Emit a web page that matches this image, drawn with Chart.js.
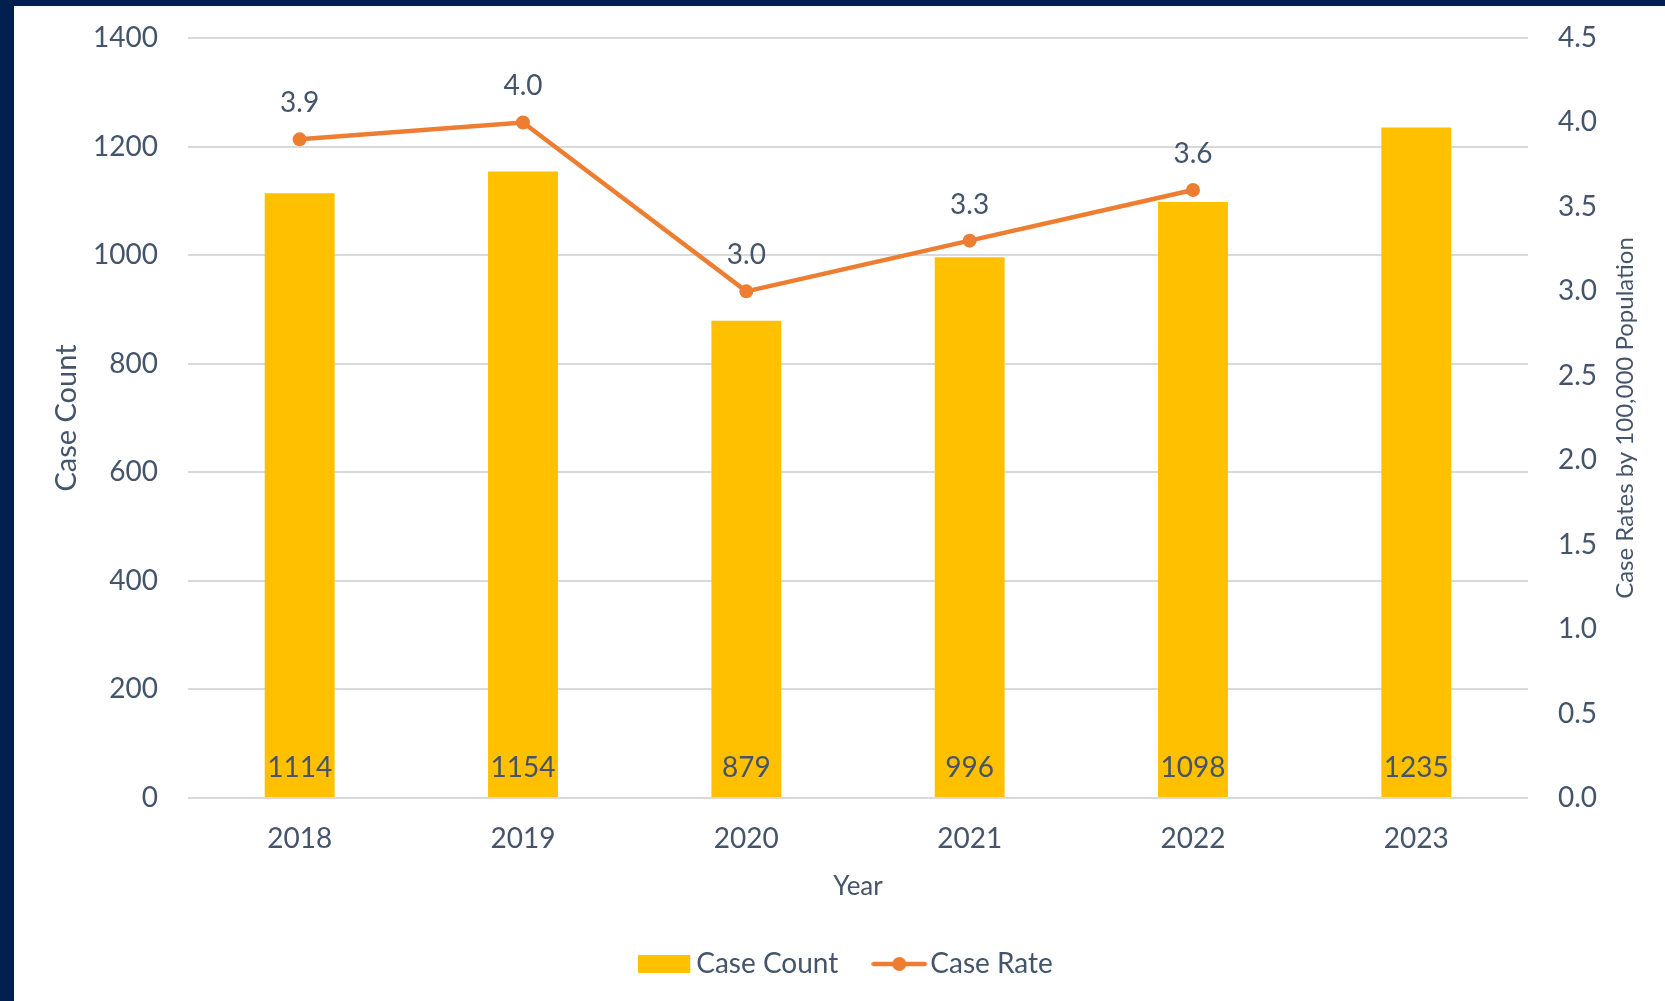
<!DOCTYPE html>
<html><head><meta charset="utf-8">
<script src="https://cdn.jsdelivr.net/npm/chart.js@4.4.0/dist/chart.umd.min.js"></script>
<style>
html,body{margin:0;padding:0;background:#fff;}
#frame{position:absolute;left:0;top:0;width:1665px;height:1001px;background:#fff;border-left:14px solid #012050;border-top:6px solid #012050;box-sizing:border-box;}
#wrap{position:absolute;left:14px;top:6px;width:1651px;height:995px;}
</style></head><body>
<div id="frame"></div>
<div id="wrap"><canvas id="c" width="1651" height="995"></canvas></div>
<script>
const years = ['2018', '2019', '2020', '2021', '2022', '2023'];
const caseCounts = [1114, 1154, 879, 996, 1098, 1235];
const caseRates = [3.9, 4.0, 3.0, 3.3, 3.6, null];
const countAxis = {min: 0, max: 1400, step: 200, title: 'Case Count'};
const rateAxis = {min: 0, max: 4.5, step: 0.5, title: 'Case Rates by 100,000 Population'};
const xTitle = 'Year';
const seriesNames = ['Case Count', 'Case Rate'];

const TEXT = '#44546A';
const BAR = '#FFC000';
const LINE = '#ED7D31';
const FONT = 'Lato';

function rectImg(){
  const c = document.createElement('canvas'); c.width = 58; c.height = 18;
  const g = c.getContext('2d'); g.fillStyle = BAR; g.fillRect(0, 0, 52, 18); return c;
}
function lineImg(){
  const c = document.createElement('canvas'); c.width = 60; c.height = 16;
  const g = c.getContext('2d');
  g.strokeStyle = LINE; g.lineWidth = 4.5; g.lineCap = 'round';
  g.beginPath(); g.moveTo(2.5, 8); g.lineTo(53.5, 8); g.stroke();
  g.fillStyle = LINE; g.beginPath(); g.arc(28, 8, 7, 0, Math.PI * 2); g.fill();
  return c;
}
const legendImgs = [rectImg(), lineImg()];

const valueLabels = {
  id: 'valueLabels',
  afterDatasetsDraw(chart){
    const ctx = chart.ctx;
    ctx.save();
    ctx.font = '28px ' + FONT;
    ctx.fillStyle = TEXT;
    ctx.textAlign = 'center';
    ctx.textBaseline = 'middle';
    const ys = chart.scales.y;
    chart.getDatasetMeta(0).data.forEach((el, i) => {
      ctx.fillText(String(caseCounts[i]), el.x, ys.getPixelForValue(0) - 30);
    });
    chart.getDatasetMeta(1).data.forEach((el, i) => {
      if (caseRates[i] == null) return;
      ctx.fillText(caseRates[i].toFixed(1), el.x, el.y - 36);
    });
    ctx.restore();
  },
  afterDraw(chart){
    const ctx = chart.ctx, ca = chart.chartArea, s = chart.scales.y1;
    ctx.save();
    ctx.font = '24px ' + FONT;
    ctx.fillStyle = TEXT;
    ctx.textAlign = 'center';
    ctx.textBaseline = 'middle';
    ctx.translate(s.right - 40, (ca.top + ca.bottom) / 2);
    ctx.rotate(-Math.PI / 2);
    ctx.fillText(rateAxis.title, 0, 0);
    ctx.restore();
  }
};

function noVPad(s){ s.paddingTop = 0; s.paddingBottom = 0; }

new Chart(document.getElementById('c'), {
  type: 'bar',
  data: {
    labels: years,
    datasets: [
      {type: 'bar', label: seriesNames[0], data: caseCounts, backgroundColor: BAR, yAxisID: 'y',
       categoryPercentage: 1, barPercentage: 0.313, order: 1},
      {type: 'line', label: seriesNames[1], data: caseRates, yAxisID: 'y1', borderColor: LINE, backgroundColor: LINE,
       borderWidth: 4.5, pointRadius: 7, pointHoverRadius: 7, pointBackgroundColor: LINE, pointBorderWidth: 0,
       spanGaps: false, order: 0, tension: 0}
    ]
  },
  options: {
    responsive: false,
    animation: false,
    layout: {padding: {left: 26, right: 0, top: 32, bottom: 19}},
    plugins: {
      tooltip: {enabled: false},
      legend: {
        position: 'bottom',
        maxHeight: 80,
        labels: {
          usePointStyle: true, pointStyleWidth: 30, boxHeight: 18, padding: 48,
          color: TEXT, font: {family: FONT, size: 28},
          generateLabels(chart){
            const items = Chart.defaults.plugins.legend.labels.generateLabels(chart);
            items.sort((a, b) => a.datasetIndex - b.datasetIndex);
            items.forEach(it => { it.pointStyle = legendImgs[it.datasetIndex]; });
            return items;
          }
        }
      }
    },
    scales: {
      x: {
        grid: {display: false, drawTicks: false},
        border: {display: false},
        ticks: {color: TEXT, font: {family: FONT, size: 28}, padding: 24},
        title: {display: true, text: xTitle, color: TEXT, font: {family: FONT, size: 26}, padding: {top: 0, bottom: 0}},
        afterFit(s){ s.height = 104; }
      },
      y: {
        position: 'left', min: countAxis.min, max: countAxis.max,
        grid: {color: '#D9D9D9', lineWidth: 2, drawTicks: false},
        border: {display: false},
        ticks: {stepSize: countAxis.step, color: TEXT, font: {family: FONT, size: 28}, padding: 30,
                callback: v => String(v)},
        title: {display: true, text: countAxis.title, color: TEXT, font: {family: FONT, size: 29}, padding: {top: 9, bottom: 0}},
        afterFit(s){ s.width = 148; noVPad(s); }
      },
      y1: {
        position: 'right', min: rateAxis.min, max: rateAxis.max,
        grid: {display: false, drawTicks: false},
        border: {display: false},
        ticks: {stepSize: rateAxis.step, color: TEXT, font: {family: FONT, size: 28}, padding: 30,
                callback: v => Number(v).toFixed(1)},
        afterFit(s){ s.width = 137; noVPad(s); }
      }
    }
  },
  plugins: [valueLabels]
});
</script>
</body></html>
